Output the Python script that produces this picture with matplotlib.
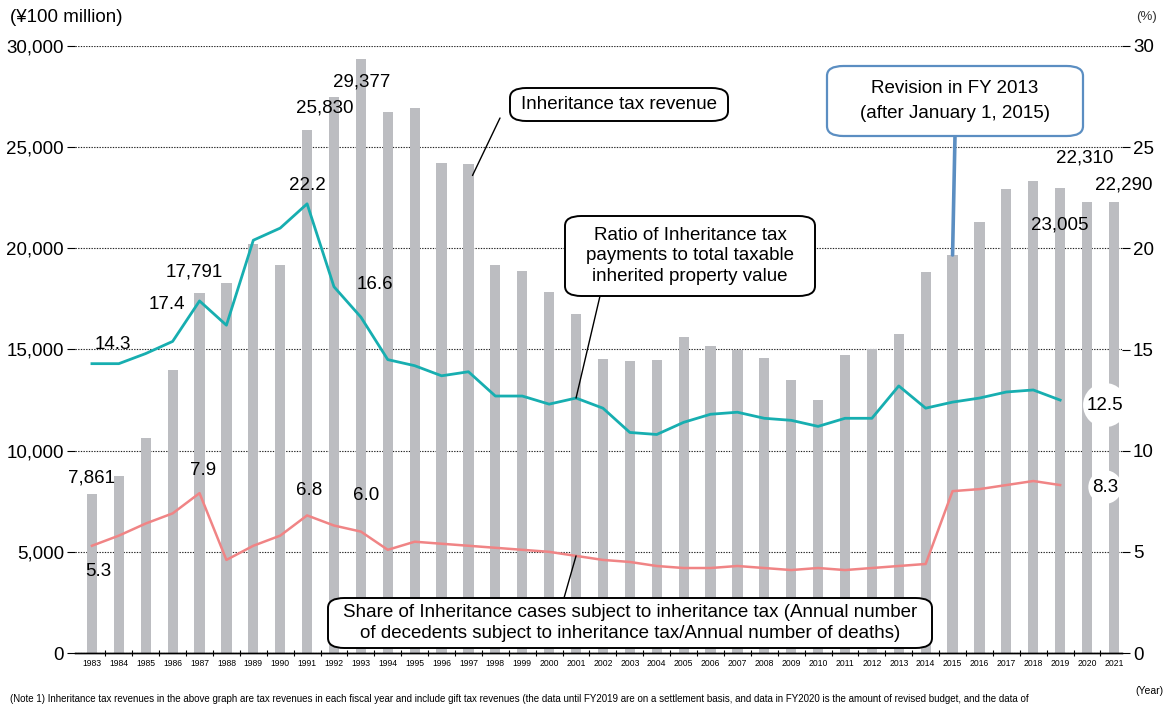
import matplotlib.pyplot as plt
from matplotlib.patches import FancyBboxPatch

plt.rcParams['font.family'] = ['Liberation Sans', 'DejaVu Sans']

years = list(range(1983, 2022))
revenue = [7861, 8750, 10630, 13990, 17791, 18290, 20200, 19180, 25830, 27480,
           29377, 26740, 26940, 24220, 24170, 19180, 18880, 17840, 16760, 14530,
           14430, 14480, 15620, 15180, 14980, 14580, 13500, 12510, 14730, 15030,
           15770, 18830, 19670, 21300, 22940, 23330, 23005, 22310, 22290]
# ratio of tax payments to taxable inherited property value (%), 1983-2019
burden = [14.3, 14.3, 14.8, 15.4, 17.4, 16.2, 20.4, 21.0, 22.2, 18.1,
          16.6, 14.5, 14.2, 13.7, 13.9, 12.7, 12.7, 12.3, 12.6, 12.1,
          10.9, 10.8, 11.4, 11.8, 11.9, 11.6, 11.5, 11.2, 11.6, 11.6,
          13.2, 12.1, 12.4, 12.6, 12.9, 13.0, 12.5]
# share of decedents subject to inheritance tax (%), 1983-2019
share = [5.3, 5.8, 6.4, 6.9, 7.9, 4.6, 5.3, 5.8, 6.8, 6.3,
         6.0, 5.1, 5.5, 5.4, 5.3, 5.2, 5.1, 5.0, 4.8, 4.6,
         4.5, 4.3, 4.2, 4.2, 4.3, 4.2, 4.1, 4.2, 4.1, 4.2,
         4.3, 4.4, 8.0, 8.1, 8.3, 8.5, 8.3]

left_ticks = [0, 5000, 10000, 15000, 20000, 25000, 30000]
right_ticks = [0, 5, 10, 15, 20, 25, 30]

BAR = '#bcbdc1'
TEAL = '#17aeb0'
PINK = '#f08485'
BLUE = '#5b8ec2'
FS = 13.5
NARROW = ['Liberation Sans Narrow', 'Liberation Sans']

W, H = 1166, 704
fig = plt.figure(figsize=(W / 100, H / 100), dpi=100)


def fx(x):
    return x / W


def fy(y):
    return 1 - y / H


ax = fig.add_axes([fx(75), fy(653), fx(1122) - fx(75), fy(46) - fy(653)])
ax2 = ax.twinx()
xs = list(range(len(years)))

ax.bar(xs, revenue, width=0.38, color=BAR, zorder=2)
ax.set_xlim(-0.63, 38.3)
ax.set_ylim(0, 30000)
ax.set_yticks(left_ticks)
ax.set_yticklabels([f'{v:,}' for v in left_ticks], fontsize=FS)
ax.grid(axis='y', color='#222222', linestyle=(0, (1.2, 1.2)), linewidth=0.8, zorder=1)
ax.set_xticks(xs)
ax.set_xticklabels([str(y) for y in years], fontsize=6.2, family=NARROW)
ax.set_xticks([x + 0.5 for x in xs[:-1]], minor=True)
ax.tick_params(axis='x', which='major', length=0, pad=4)
ax.tick_params(axis='x', which='minor', length=5, direction='inout', width=0.8)
ax.tick_params(axis='y', length=6, width=0.8, pad=2)

ax2.plot(xs[:len(burden)], burden, color=TEAL, lw=2.0, zorder=3)
ax2.plot(xs[:len(share)], share, color=PINK, lw=1.8, zorder=3)
ax2.set_ylim(0, 30)
ax2.set_yticks(right_ticks)
ax2.set_yticklabels([str(v) for v in right_ticks], fontsize=FS)
ax2.tick_params(axis='y', length=6, width=0.8, pad=2)

for a in (ax, ax2):
    for side in ('left', 'right', 'top'):
        a.spines[side].set_visible(False)
    a.spines['bottom'].set_linewidth(1.0)

# value labels: (axes, x index, value, text, dx px, dy px)
labels = [
    (ax, 0, revenue[0], '7,861', 0, 16),
    (ax, 4, revenue[4], '17,791', -5, 21),
    (ax, 8, revenue[8], '25,830', 18, 22),
    (ax, 10, revenue[10], '29,377', 1, -23),
    (ax, 36, revenue[36], '23,005', 0, -37),
    (ax, 37, revenue[37], '22,310', -2, 44),
    (ax, 38, revenue[38], '22,290', 10, 17),
    (ax2, 0, burden[0], '14.3', 21, 19),
    (ax2, 4, burden[4], '17.4', -33, -4),
    (ax2, 8, burden[8], '22.2', 0, 18),
    (ax2, 10, burden[10], '16.6', 14, 33),
    (ax2, 0, share[0], '5.3', 6, -26),
    (ax2, 4, share[4], '7.9', 4, 23),
    (ax2, 8, share[8], '6.8', 2, 25),
    (ax2, 10, share[10], '6.0', 5, 36),
]
for a, i, v, t, dx, dy in labels:
    a.annotate(t, xy=(i, v), xytext=(dx, dy), textcoords='offset pixels',
               ha='center', va='center', fontsize=FS, zorder=6)

for v, t, dy in ((burden[-1], '12.5', -5), (share[-1], '8.3', -2)):
    ax2.annotate(t, xy=(36, v), xytext=(45, dy), textcoords='offset pixels',
                 ha='center', va='center', fontsize=FS, zorder=6,
                 bbox=dict(boxstyle='circle,pad=0.2', fc='white', ec='none'))


def callout(x0, y0, x1, y1, lines, edge, lw=1.4, spacing=1.3):
    fig.add_artist(FancyBboxPatch(
        (fx(x0), fy(y1)), fx(x1) - fx(x0), fy(y0) - fy(y1),
        boxstyle='round,pad=0,rounding_size=0.014',
        transform=fig.transFigure, fc='white', ec=edge, lw=lw, zorder=5))
    fig.text(fx((x0 + x1) / 2), fy((y0 + y1) / 2), lines, ha='center',
             va='center', fontsize=FS, linespacing=spacing, zorder=6)


def leader(a, xy, start, color='black', lw=1.0):
    a.annotate('', xy=xy, xytext=(fx(start[0]), fy(start[1])),
               textcoords='figure fraction',
               arrowprops=dict(arrowstyle='-', color=color, lw=lw,
                               shrinkA=0, shrinkB=0), zorder=4)


leader(ax2, (14.15, 23.6), (500, 118))
leader(ax2, (18, burden[18]), (600, 296))
leader(ax2, (18, share[18]), (564, 598))
leader(ax2, (32, revenue[32] / 1000), (955, 136), color=BLUE, lw=2.6)

callout(510, 88, 728, 121, 'Inheritance tax revenue', 'black')
callout(565, 216, 815, 296,
        'Ratio of Inheritance tax\npayments to total taxable\ninherited property value', 'black')
callout(328, 598, 932, 648,
        'Share of Inheritance cases subject to inheritance tax (Annual number\n'
        'of decedents subject to inheritance tax/Annual number of deaths)', 'black')
callout(827, 66, 1083, 136, 'Revision in FY 2013\n(after January 1, 2015)', BLUE,
        lw=1.6, spacing=1.55)

fig.text(fx(10), fy(17), '(¥100 million)', fontsize=FS, va='center')
fig.text(fx(1157), fy(17), '(%)', fontsize=9.5, va='center', ha='right', color='#333333')
fig.text(fx(1163), fy(691), '(Year)', fontsize=7.5, va='center', ha='right', family=NARROW)
fig.text(fx(10), fy(699),
         '(Note 1) Inheritance tax revenues in the above graph are tax revenues in each fiscal year '
         'and include gift tax revenues (the data until FY2019 are on a settlement basis, and data '
         'in FY2020 is the amount of revised budget, and the data of',
         fontsize=7, va='center', family=NARROW)

fig.savefig('out.png', dpi=100, facecolor='white')
